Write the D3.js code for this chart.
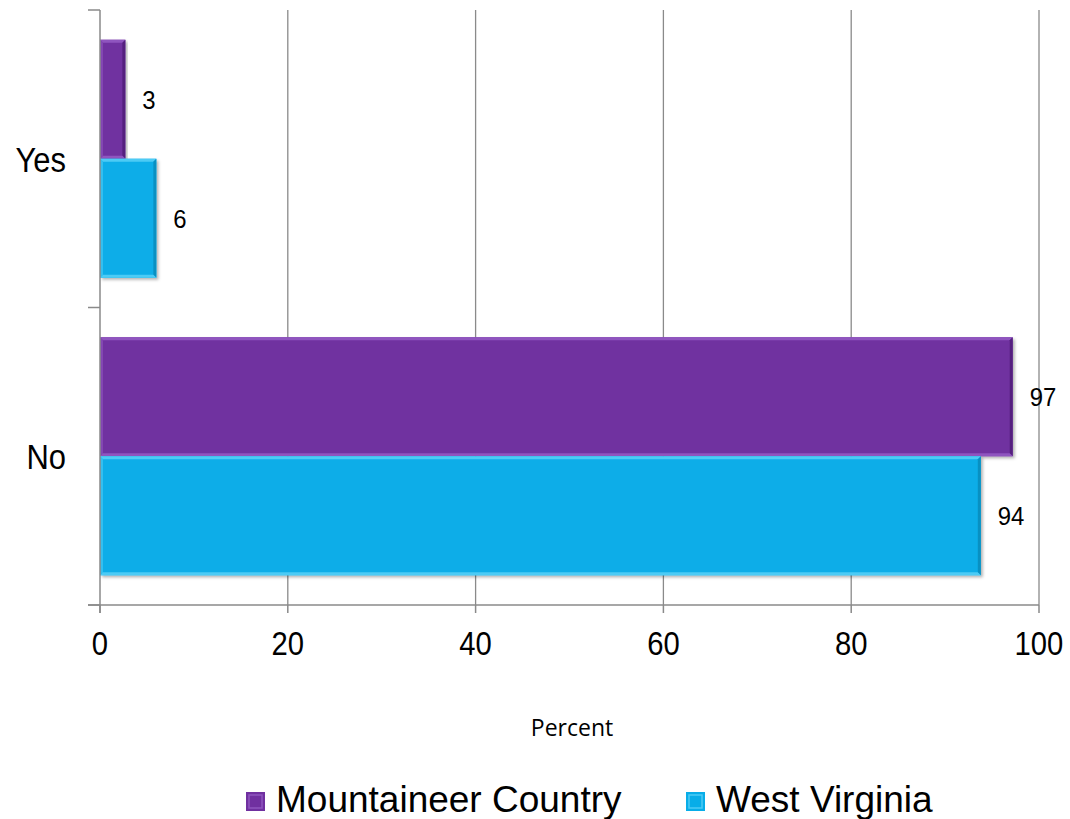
<!DOCTYPE html>
<html>
<head>
<meta charset="utf-8">
<script src="https://cdn.jsdelivr.net/npm/d3@7"></script>
<style>
html,body{margin:0;padding:0;background:#fff;}
svg{display:block;}
</style>
</head>
<body>
<svg id="chart" width="1070" height="819"></svg>
<script>
// ---- data ----
const categories = ["Yes", "No"];
const seriesNames = ["Mountaineer Country", "West Virginia"];
const mountaineerValues = [2.7, 97.2];
const westVirginiaValues = [6.0, 93.8];
const valueLabels = [["3", "97"], ["6", "94"]];
const xTicks = [0, 20, 40, 60, 80, 100];
const axisTitle = "Percent";

const colors = ["#7030A0", "#08ADE8"];
const lightColors = ["#8F55BF", "#4CCBF5"];
const darkColors = ["#55207F", "#0890C2"];

const FONT = "'Liberation Sans', Arial, sans-serif";
const svg = d3.select("#chart");
const pLeft = 100, pRight = 1039, pTop = 10, pBottom = 605;

const x = d3.scaleLinear().domain([0, 100]).range([pLeft, pRight]);
const y = d3.scaleBand().domain(categories).range([pTop, pBottom]).paddingInner(0.2).paddingOuter(0.1);
const yInner = d3.scaleBand().domain([0, 1]).range([0, y.bandwidth()]);

const defs = svg.append("defs");
const f = defs.append("filter").attr("id", "shadow").attr("x", "-5%").attr("y", "-5%").attr("width", "115%").attr("height", "115%");
f.append("feDropShadow").attr("dx", 2).attr("dy", 2).attr("stdDeviation", 1.5).attr("flood-color", "#000").attr("flood-opacity", 0.3);

// gridlines
svg.append("g").selectAll("line").data(xTicks.filter(d => d > 0)).join("line")
  .attr("x1", d => x(d)).attr("x2", d => x(d))
  .attr("y1", pTop).attr("y2", pBottom)
  .attr("stroke", "#8a8a8a").attr("stroke-width", 1.3);

// bars
const allValues = [mountaineerValues, westVirginiaValues];
const bars = [];
allValues.forEach((vals, si) => {
  vals.forEach((v, ci) => bars.push({si, ci, v, label: valueLabels[si][ci]}));
});

const bg = svg.append("g");
bars.forEach(b => {
  const bx = x(0), by = y(categories[b.ci]) + yInner(b.si);
  const bw = x(b.v) - x(0), bh = yInner.bandwidth();
  const g = bg.append("g");
  g.append("rect").attr("x", bx).attr("y", by).attr("width", bw).attr("height", bh)
    .attr("fill", colors[b.si]).attr("filter", "url(#shadow)");
  // bevel edges
  const e = 3;
  g.append("polygon").attr("points", `${bx},${by} ${bx+bw},${by} ${bx+bw-e},${by+e} ${bx+e},${by+e}`).attr("fill", lightColors[b.si]);
  g.append("polygon").attr("points", `${bx},${by} ${bx+e},${by+e} ${bx+e},${by+bh-e} ${bx},${by+bh}`).attr("fill", lightColors[b.si]).attr("opacity", 0.6);
  g.append("polygon").attr("points", `${bx+bw},${by} ${bx+bw},${by+bh} ${bx+bw-e},${by+bh-e} ${bx+bw-e},${by+e}`).attr("fill", darkColors[b.si]);
  g.append("polygon").attr("points", `${bx},${by+bh} ${bx+bw},${by+bh} ${bx+bw-e},${by+bh-e} ${bx+e},${by+bh-e}`).attr("fill", lightColors[b.si]);
  // value label
  g.append("text")
    .attr("transform", `translate(${x(b.v) + 17},${by + bh / 2}) scale(0.92,1)`)
    .attr("dy", "0.36em")
    .attr("font-family", FONT)
    .attr("font-size", 26).attr("fill", "#000")
    .text(b.label);
});

// axes
const axisColor = "#8a8a8a";
svg.append("line").attr("x1", 88).attr("x2", pRight).attr("y1", pBottom).attr("y2", pBottom)
  .attr("stroke", axisColor).attr("stroke-width", 1.5);
svg.append("line").attr("x1", pLeft).attr("x2", pLeft).attr("y1", pTop).attr("y2", pBottom + 8)
  .attr("stroke", axisColor).attr("stroke-width", 1.5);
// x ticks
svg.append("g").selectAll("line").data(xTicks).join("line")
  .attr("x1", d => x(d)).attr("x2", d => x(d)).attr("y1", pBottom).attr("y2", pBottom + 8)
  .attr("stroke", axisColor).attr("stroke-width", 1.5);
svg.append("g").selectAll("text").data(xTicks).join("text")
  .attr("transform", d => `translate(${x(d)},655) scale(0.86,1)`)
  .attr("text-anchor", "middle")
  .attr("font-family", FONT)
  .attr("font-size", 34).attr("fill", "#000")
  .text(d => d);
// y ticks (category boundaries)
const yBounds = [pTop, (pTop + pBottom) / 2, pBottom];
svg.append("g").selectAll("line").data(yBounds).join("line")
  .attr("x1", 88).attr("x2", pLeft).attr("y1", d => d).attr("y2", d => d)
  .attr("stroke", axisColor).attr("stroke-width", 1.5);
svg.append("g").selectAll("text").data(categories).join("text")
  .attr("transform", d => `translate(66,${y(d) + y.bandwidth() / 2}) scale(0.86,1)`)
  .attr("dy", "0.36em")
  .attr("text-anchor", "end")
  .attr("font-family", FONT)
  .attr("font-size", 36).attr("fill", "#000")
  .text(d => d);

// axis title
svg.append("text").attr("x", 572).attr("y", 736).attr("text-anchor", "middle")
  .attr("font-family", "'Open Sans', sans-serif").attr("font-size", 23).attr("fill", "#000")
  .text(axisTitle);

// legend
const legendPos = [246, 686];
seriesNames.forEach((name, i) => {
  const lg = svg.append("g");
  const sx = legendPos[i], sy = 792, s = 19;
  lg.append("rect").attr("x", sx).attr("y", sy).attr("width", s).attr("height", s).attr("fill", colors[i]);
  lg.append("rect").attr("x", sx + 3).attr("y", sy + 3).attr("width", s - 6).attr("height", s - 6)
    .attr("fill", "none").attr("stroke", lightColors[i]).attr("stroke-width", 1.5);
  lg.append("text").attr("x", sx + 30).attr("y", 812)
    .attr("font-family", FONT)
    .attr("font-size", 37).attr("fill", "#000")
    .text(name);
});
</script>
</body>
</html>
